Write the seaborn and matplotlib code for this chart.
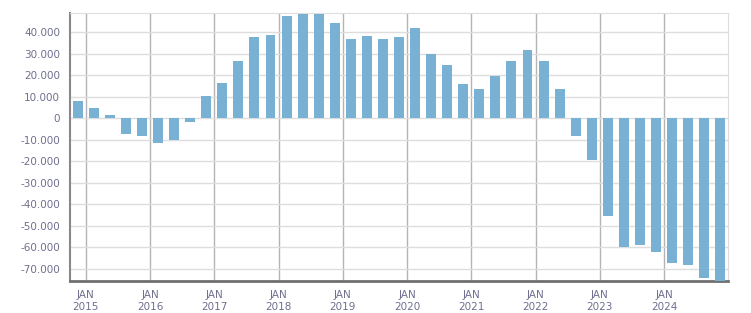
import matplotlib
matplotlib.use('Agg')
import matplotlib.pyplot as plt
import matplotlib.ticker as mticker
import seaborn as sns
import pandas as pd

# quarterly values, Q4 2014 .. Q4 2024
quarters = ['2014Q4'] + [f'{y}Q{q}' for y in range(2015, 2025) for q in range(1, 5)]
values = [8000, 4800, 1500, -7200, -8200, -11300, -9900, -1600,
          10400, 16400, 26700, 37800, 38700, 47600, 48600, 48500,
          44300, 36900, 38300, 36900, 37800, 42000, 29900, 24800,
          16000, 13600, 19700, 26700, 31800, 26700, 13600, -8200,
          -19400, -45400, -59900, -58900, -62200, -67300, -68200, -74300,
          -76500]
year_labels = [f'JAN\n{y}' for y in range(2015, 2025)]

df = pd.DataFrame({'quarter': quarters, 'value': values})

sns.set_style('white')
plt.rcParams['font.family'] = ['DejaVu Sans']

fig = plt.figure(figsize=(7.51, 3.13), dpi=100)
ax = fig.add_axes([0.0928, 0.1032, 0.877, 0.8543])

sns.barplot(data=df, x='quarter', y='value', color='#78b1d3', saturation=1,
            width=0.62, linewidth=0, edgecolor='none', ax=ax, zorder=3)

ax.set_xlim(-0.5, len(quarters) - 0.5)
ax.set_ylim(-75500, 48800)

label_color = '#6f6f8f'
ax.set_yticks(range(-70000, 40001, 10000))
ax.yaxis.set_major_formatter(mticker.FuncFormatter(lambda v, p: f'{int(v):,}'.replace(',', '.')))
ax.set_xticks([0.5 + 4 * i for i in range(len(year_labels))])
ax.set_xticklabels(year_labels)
ax.set_xticks([i + 0.5 for i in range(-1, len(quarters))], minor=True)

ax.tick_params(axis='y', labelsize=7.5, labelcolor=label_color, color='#888888',
               length=6, width=1, direction='out', pad=1)
ax.tick_params(axis='x', which='major', labelsize=7.5, labelcolor=label_color,
               color='#888888', length=5, width=1, pad=2)
ax.tick_params(axis='x', which='minor', color='#888888', length=3, width=1)
for lbl in ax.get_xticklabels():
    lbl.set_linespacing(1.15)

ax.grid(axis='y', color='#dddddd', linewidth=1, zorder=0)
ax.grid(axis='x', which='major', color='#b4b4b4', linewidth=1, zorder=0)
ax.set_axisbelow(True)

ax.spines['left'].set_color('#888888')
ax.spines['left'].set_linewidth(1.5)
ax.spines['bottom'].set_color('#707070')
ax.spines['bottom'].set_linewidth(2)
ax.spines['top'].set_color('#dddddd')
ax.spines['right'].set_color('#dddddd')

ax.set_xlabel('')
ax.set_ylabel('')

fig.savefig('out.png', dpi=100)
plt.close(fig)
